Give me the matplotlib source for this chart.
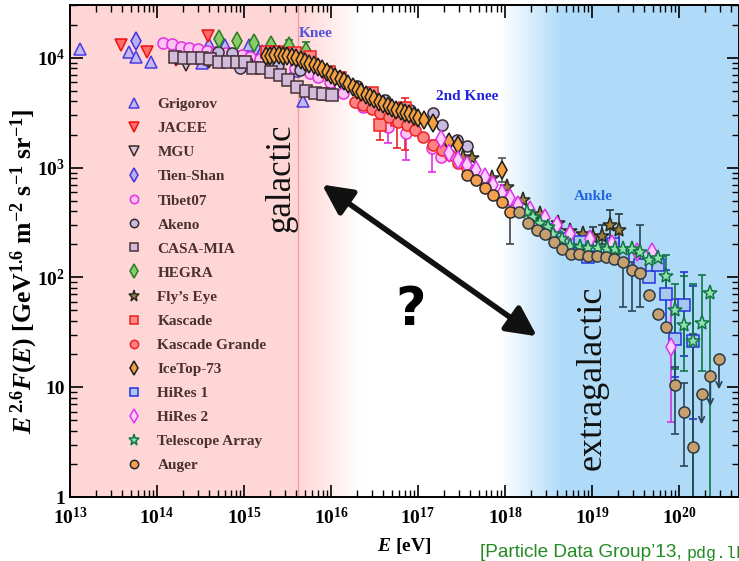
import numpy as np
import matplotlib.pyplot as plt
from matplotlib.lines import Line2D

plt.rcParams['font.family'] = ['Liberation Serif', 'DejaVu Serif']
plt.rcParams['font.weight'] = 'bold'
plt.rcParams['axes.labelweight'] = 'bold'
plt.rcParams['mathtext.fontset'] = 'custom'
plt.rcParams['mathtext.rm'] = 'Liberation Serif:bold'
plt.rcParams['mathtext.it'] = 'Liberation Serif:italic:bold'
plt.rcParams['mathtext.bf'] = 'Liberation Serif:bold'
plt.rcParams['mathtext.default'] = 'rm'

# ---- data: log10(E/eV) and E^2.6 F(E) [GeV^1.6 m^-2 s^-1 sr^-1] ----
grigorov_lgE = [13.12, 13.68, 13.76, 13.93, 14.52, 14.60, 14.78, 15.06, 15.16, 15.57, 15.68]
grigorov_f = [12070, 11340, 10210, 9190, 9010, 13410, 13130, 13130, 12070, 7620, 4070]

jacee_lgE = [13.59, 13.89, 14.22, 14.59]
jacee_f = [13130, 11340, 9590, 15850]

mgu_lgE = [14.22, 14.33, 14.60]
mgu_f = [9800, 8640, 9190]

tienshan_lgE = [13.76, 15.21]
tienshan_f = [14270, 10870]

tibet_lgE = [14.07, 14.17, 14.28, 14.37, 14.47, 14.57, 14.68, 14.79, 14.98, 15.07, 15.18,
             15.38, 15.59, 15.76, 15.85, 15.99, 16.14, 16.37, 16.66, 16.86, 17.16, 17.26]
tibet_f = [13690, 13410, 12590, 12330, 12070, 11580, 11340, 11100, 10650, 10210, 9790,
           9010, 8110, 7310, 6720, 6050, 4810, 3590, 2360, 2080, 1520, 1260]
tibet_err_lgE = [16.66, 16.86, 17.16]
tibet_err_lo = [1690, 1180, 920]
tibet_err_hi = [2730, 2410, 1800]

akeno_lgE = [14.70, 14.86, 14.95, 15.03, 15.28, 15.39, 15.64, 16.08, 16.30, 16.62, 16.91,
             17.17, 17.28, 17.45, 17.56]
akeno_f = [11340, 11100, 8110, 9190, 9010, 8640, 7780, 6720, 5570, 4150, 3370,
           3160, 2460, 1800, 1585]

casa_lgE = [14.21, 14.31, 14.41, 14.52, 14.61, 14.71, 14.82, 14.92, 15.01, 15.10, 15.21,
            15.31, 15.41, 15.51, 15.61, 15.71, 15.82, 15.91, 16.01]
casa_f = [10210, 10000, 10000, 10000, 9790, 9190, 9190, 9190, 9190, 8110, 8110,
          7460, 7010, 6310, 5450, 5010, 4810, 4710, 4610]
casa_err_lgE = [15.91, 16.01]
casa_err_lo = [4150, 4150]
casa_err_hi = [5340, 5340]

hegra_lgE = [14.71, 14.92, 15.11, 15.31, 15.52, 15.71]
hegra_f = [14890, 14270, 13690, 13130, 12860, 11580]
hegra_err_lgE = [15.52, 15.71]
hegra_err_lo = [11340, 10000]
hegra_err_hi = [14580, 13980]

flyseye_lgE = [17.52, 17.62, 17.85, 18.02, 18.21, 18.40, 18.61, 18.75, 18.90, 19.01,
               19.11, 19.21, 19.31]
flyseye_f = [1260, 1210, 812, 672, 512, 374, 316, 262, 246, 231, 240, 303, 268]
flyseye_err_lgE = [19.01, 19.11, 19.21, 19.31]
flyseye_err_lo = [195, 200, 200, 191]
flyseye_err_hi = [285, 303, 415, 374]

kascade_lgE = [15.26, 15.38, 15.48, 15.59, 15.76, 15.98, 16.10, 16.47, 16.56, 16.76, 16.85]
kascade_f = [11340, 11340, 10870, 11100, 10210, 7460, 6580, 4810, 2460, 2730, 3510]
kascade_err_lgE = [16.56, 16.76, 16.85]
kascade_err_lo = [1800, 1520, 1460]
kascade_err_hi = [3740, 3900, 4330]

kgrande_lgE = [16.28, 16.37, 16.47, 16.56, 16.67, 16.77, 16.87, 16.97, 17.06, 17.17,
               17.28, 17.37, 17.46, 17.56]
kgrande_f = [3980, 3740, 3440, 3160, 2910, 2620, 2460, 2220, 1910, 1620,
             1460, 1290, 1110, 1000]

icetop_lgE = [15.25, 15.30, 15.35, 15.40, 15.45, 15.50, 15.55, 15.60, 15.65, 15.70,
              15.75, 15.80, 15.85, 15.90, 15.95, 16.00, 16.05, 16.10, 16.15, 16.20,
              16.25, 16.30, 16.35, 16.40, 16.45, 16.50, 16.55, 16.60, 16.65, 16.70,
              16.75, 16.80, 16.85, 16.90, 16.95, 17.00, 17.07, 17.17, 17.36, 17.46, 17.97]
icetop_f = [10320, 10430, 10540, 10540, 10430, 10270, 10100, 9900, 9490, 9190,
            8820, 8550, 8200, 7860, 7460, 7010, 6720, 6440, 6110, 5800,
            5450, 5120, 4860, 4610, 4370, 4190, 3980, 3820, 3660, 3510,
            3370, 3260, 3160, 3100, 2970, 2850, 2730, 2570, 1720, 1620, 959]
icetop_err_lgE = [17.97]
icetop_err_lo = [746]
icetop_err_hi = [1230]

hires1_lgE = [18.56, 18.67, 18.86, 18.95, 19.24, 19.36, 19.55, 19.66, 19.76, 19.85,
              19.95, 20.06, 20.16]
hires1_f = [273, 222, 208, 155, 200, 155, 131, 100, 131, 70.1, 27.3, 55.7, 26.2]
hires1_err_lgE = [19.85, 19.95, 20.06, 20.16]
hires1_err_lo = [33.7, 12.3, 19.1, 5.1]
hires1_err_hi = [118, 63.1, 111, 82.8]

hires2_lgE = [17.26, 17.36, 17.46, 17.56, 17.67, 17.77, 17.86, 17.97, 18.06, 18.15,
              18.29, 18.46, 18.60, 18.75, 18.98, 19.23, 19.52, 19.69, 19.91]
hires2_f = [1830, 1370, 1180, 1065, 959, 828, 700, 593, 534, 461,
            415, 351, 297, 246, 222, 200, 169, 172, 23.1]
hires2_err_lgE = [19.91]
hires2_err_lo = [4.81]
hires2_err_hi = [63.1]

ta_lgE = [18.25, 18.32, 18.40, 18.49, 18.55, 18.66, 18.75, 18.86, 18.95, 19.07, 19.17,
          19.26, 19.36, 19.46, 19.55, 19.66, 19.76, 19.85, 19.95, 20.06, 20.16, 20.26, 20.36]
ta_f = [398, 358, 316, 285, 246, 222, 195, 191, 187, 187, 180,
        180, 183, 180, 172, 143, 149, 104, 50.1, 36.6, 26.2, 38.2, 71.5]
ta_err_lgE = [19.85, 19.95, 20.06, 20.16, 20.26, 20.36]
ta_err_lo = [63.0, 14.6, 14.0, 0.9, 14.0, 0.9]
ta_err_hi = [161, 86.4, 102, 86.4, 106, 74.6]

auger_lgE = [17.56, 17.67, 17.77, 17.86, 17.97, 18.06]
auger_f = [864, 778, 658, 557, 491, 398]
auger_err_lgE = [18.06]
auger_err_lo = [200]
auger_err_hi = [461]

augersd_lgE = [18.16, 18.26, 18.37, 18.46, 18.56, 18.66, 18.76, 18.85, 18.95, 19.06,
               19.16, 19.25, 19.36, 19.46, 19.55, 19.66, 19.76, 19.85, 19.95, 20.06, 20.16]
augersd_f = [390, 316, 268, 246, 212, 180, 165, 165, 158, 158,
             155, 146, 137, 118, 109, 68.6, 46.1, 35.1, 10.4, 5.93, 2.85]
augersd_err_lgE = [19.36, 19.46, 19.55, 19.95, 20.06, 20.16]
augersd_err_lo = [53.4, 49.1, 53.4, 3.74, 1.91, 0.9]
augersd_err_hi = [180, 137, 303, 15.2, 10.9, 30.3]
augersd_ul_lgE = [20.26, 20.36, 20.46]
augersd_ul_f = [8.64, 12.6, 18.0]
augersd_ul_end = [4.33, 6.31, 9.01]

XMIN, XMAX = 13.0, 20.69
YMIN, YMAX = 1.0, 30200

fig = plt.figure(figsize=(7.39, 5.61), dpi=100)
pos = [0.0947, 0.114, 0.9053, 0.877]

# background: galactic (pink) / extragalactic (blue) shading
bg = fig.add_axes(pos, zorder=0)
lg = np.linspace(XMIN, XMAX, 800)
pink = np.array([1.0, 0.84, 0.84])
blue = np.array([0.69, 0.86, 0.975])
wp = np.clip((lg - 15.62) / (16.35 - 15.62), 0, 1)[:, None]
wb = np.clip((lg - 17.95) / (18.65 - 17.95), 0, 1)[:, None]
rgb = pink * (1 - wp) + wp
rgb = rgb * (1 - wb) + blue * wb
bg.imshow(rgb[None, :, :], extent=[0, 1, 0, 1], aspect='auto')
bg.set_xlim(0, 1)
bg.set_ylim(0, 1)
bg.axis('off')

ax = fig.add_axes(pos, zorder=1)
ax.set_facecolor('none')
ax.set_xscale('log')
ax.set_yscale('log')
ax.axvline(10**15.62, color='#f2a0a0', lw=1, zorder=1)


def E(lgE):
    return 10.0**np.array(lgE)


def bars(lgE, lo, hi, color):
    lo = np.array(lo, dtype=float)
    hi = np.array(hi, dtype=float)
    ax.errorbar(E(lgE), lo, yerr=[np.zeros_like(lo), hi - lo], fmt='none',
                ecolor=color, elinewidth=1.2, capsize=3, capthick=1.2, zorder=2)


styles = [
    ('Grigorov', grigorov_lgE, grigorov_f, '^', '#c4b8f2', '#4a3ae0', 9),
    ('JACEE', jacee_lgE, jacee_f, 'v', '#ff6a6a', '#ee1111', 9),
    ('MGU', mgu_lgE, mgu_f, 'v', '#d8c8e0', '#3a2525', 9),
    ('Tien-Shan', tienshan_lgE, tienshan_f, 'd', '#b8b0f0', '#4433dd', 9),
    ('Tibet07', tibet_lgE, tibet_f, 'o', '#ffc2f4', '#e030e0', 8),
    ('Akeno', akeno_lgE, akeno_f, 'o', '#c6bce2', '#3a2a30', 8),
    ('CASA-MIA', casa_lgE, casa_f, 's', '#d2bcd9', '#4a3038', 8),
    ('HEGRA', hegra_lgE, hegra_f, 'd', '#88cc66', '#2a7a2a', 9),
    ("Fly\u2019s Eye", flyseye_lgE, flyseye_f, '*', '#a08040', '#2a2a20', 11),
    ('Kascade', kascade_lgE, kascade_f, 's', '#ff8888', '#ee2222', 8),
    ('Kascade Grande', kgrande_lgE, kgrande_f, 'o', '#ff8282', '#ee2222', 8),
    ('IceTop-73', icetop_lgE, icetop_f, 'd', '#f5a040', '#1e1e1e', 9),
    ('HiRes 1', hires1_lgE, hires1_f, 's', '#a8c8f0', '#2233dd', 8),
    ('HiRes 2', hires2_lgE, hires2_f, 'd', '#ffd0ff', '#dd33ee', 9),
    ('Telescope Array', ta_lgE, ta_f, '*', '#90e0b0', '#117744', 11),
    ('Auger', auger_lgE, auger_f, 'o', '#f5a050', '#2a2a2a', 8),
]

errs = {
    'Tibet07': (tibet_err_lgE, tibet_err_lo, tibet_err_hi, '#e030e0'),
    'CASA-MIA': (casa_err_lgE, casa_err_lo, casa_err_hi, '#4a3038'),
    'HEGRA': (hegra_err_lgE, hegra_err_lo, hegra_err_hi, '#2a7a2a'),
    "Fly\u2019s Eye": (flyseye_err_lgE, flyseye_err_lo, flyseye_err_hi, '#2a3a40'),
    'Kascade': (kascade_err_lgE, kascade_err_lo, kascade_err_hi, '#ee2222'),
    'IceTop-73': (icetop_err_lgE, icetop_err_lo, icetop_err_hi, '#555555'),
    'HiRes 1': (hires1_err_lgE, hires1_err_lo, hires1_err_hi, '#2233dd'),
    'HiRes 2': (hires2_err_lgE, hires2_err_lo, hires2_err_hi, '#cc33ee'),
    'Telescope Array': (ta_err_lgE, ta_err_lo, ta_err_hi, '#117744'),
    'Auger': (auger_err_lgE, auger_err_lo, auger_err_hi, '#444444'),
}

handles = []
for name, x, y, m, fc, ec, ms in styles:
    if name in errs:
        bars(*errs[name])
    ax.plot(E(x), y, ls='none', marker=m, mfc=fc, mec=ec, ms=ms, mew=1.1, zorder=3)
    handles.append(Line2D([], [], ls='none', marker=m, mfc=fc, mec=ec,
                          ms=ms * 0.75, mew=1.1, label=name))

# Auger surface detector points (tan)
bars(augersd_err_lgE, augersd_err_lo, augersd_err_hi, '#2a4656')
ax.plot(E(augersd_lgE), augersd_f, ls='none', marker='o', mfc='#c8a06e', mec='#2a3a46',
        ms=8, mew=1.1, zorder=4)
for lx, f0, f1 in zip(augersd_ul_lgE, augersd_ul_f, augersd_ul_end):
    ax.annotate('', xy=(10.0**lx, f1), xytext=(10.0**lx, f0),
                arrowprops=dict(arrowstyle='->', color='#2a4656', lw=1.3), zorder=3)
ax.plot(E(augersd_ul_lgE), augersd_ul_f, ls='none', marker='o', mfc='#c8a06e',
        mec='#2a3a46', ms=8, mew=1.1, zorder=4)

ax.set_xlim(10.0**XMIN, 10.0**XMAX)
ax.set_ylim(YMIN, YMAX)

ax.set_xticks([10.0**i for i in range(13, 21)], [f'$10^{{{i}}}$' for i in range(13, 21)])
ax.set_yticks([1.0, 10.0, 100.0, 1000.0, 10000.0], ['1', '10', '$10^{2}$', '$10^{3}$', '$10^{4}$'])
ax.tick_params(which='both', direction='in', top=True, right=True, labelsize=14)
ax.tick_params(which='major', length=9, width=1.2)
ax.tick_params(which='minor', length=5, width=1)
ax.tick_params(axis='x', pad=7)
for s in ax.spines.values():
    s.set_linewidth(1.4)

ax.set_xlabel(r'$\mathit{E}$ [eV]', fontsize=14, labelpad=6)
ax.set_ylabel(r'$\mathit{E}^{\,2.6}\mathit{F}(\mathit{E})$ [GeV$^{1.6}$ m$^{-2}$ s$^{-1}$ sr$^{-1}$]',
              fontsize=18.5)
ax.yaxis.set_label_coords(-0.045, 0.459)

leg = ax.legend(handles=handles, loc='upper left', bbox_to_anchor=(0.085, 0.812),
                frameon=False, fontsize=11, handlelength=1.0, handletextpad=1.0,
                labelspacing=0.68, borderpad=0, borderaxespad=0, numpoints=1,
                labelcolor='#4a3030')

ax.text(10**15.83, 1.65e4, 'Knee', color='#5252dd', fontsize=11, ha='center', va='center')
ax.text(10**17.56, 4.4e3, '2nd Knee', color='#2222dd', fontsize=11, ha='center', va='center')
ax.text(10**19.02, 5.5e2, 'Ankle', color='#2266dd', fontsize=11, ha='center', va='center')
ax.text(10**15.42, 811, 'galactic', fontsize=25, weight='normal', rotation=90,
        ha='center', va='center', color='#111111')
ax.text(10**19.0, 12.3, 'extragalactic', fontsize=26, weight='normal', rotation=90,
        ha='center', va='center', color='#111111')
ax.text(10**16.91, 50, '?', fontsize=38, weight='bold', family='DejaVu Sans',
        ha='center', va='center', color='black')
ax.annotate('', xy=(10**15.897, 700), xytext=(10**18.368, 29.1),
            arrowprops=dict(arrowstyle='<|-|>,head_length=0.9,head_width=0.45',
                            mutation_scale=20, lw=4, color='#111111',
                            shrinkA=0, shrinkB=0), zorder=5)

t = fig.text(480 / 739, 1 - 557 / 561, "[Particle Data Group\u201913, ", color='#228b22',
             family='Liberation Sans', weight='normal', fontsize=13.7, va='baseline')
ax.annotate('pdg.lbl.gov]', xy=(1, 0), xycoords=t, va='bottom', ha='left', color='#228b22',
            family='Liberation Mono', weight='normal', fontsize=12)

fig.savefig('out.png', dpi=100)
